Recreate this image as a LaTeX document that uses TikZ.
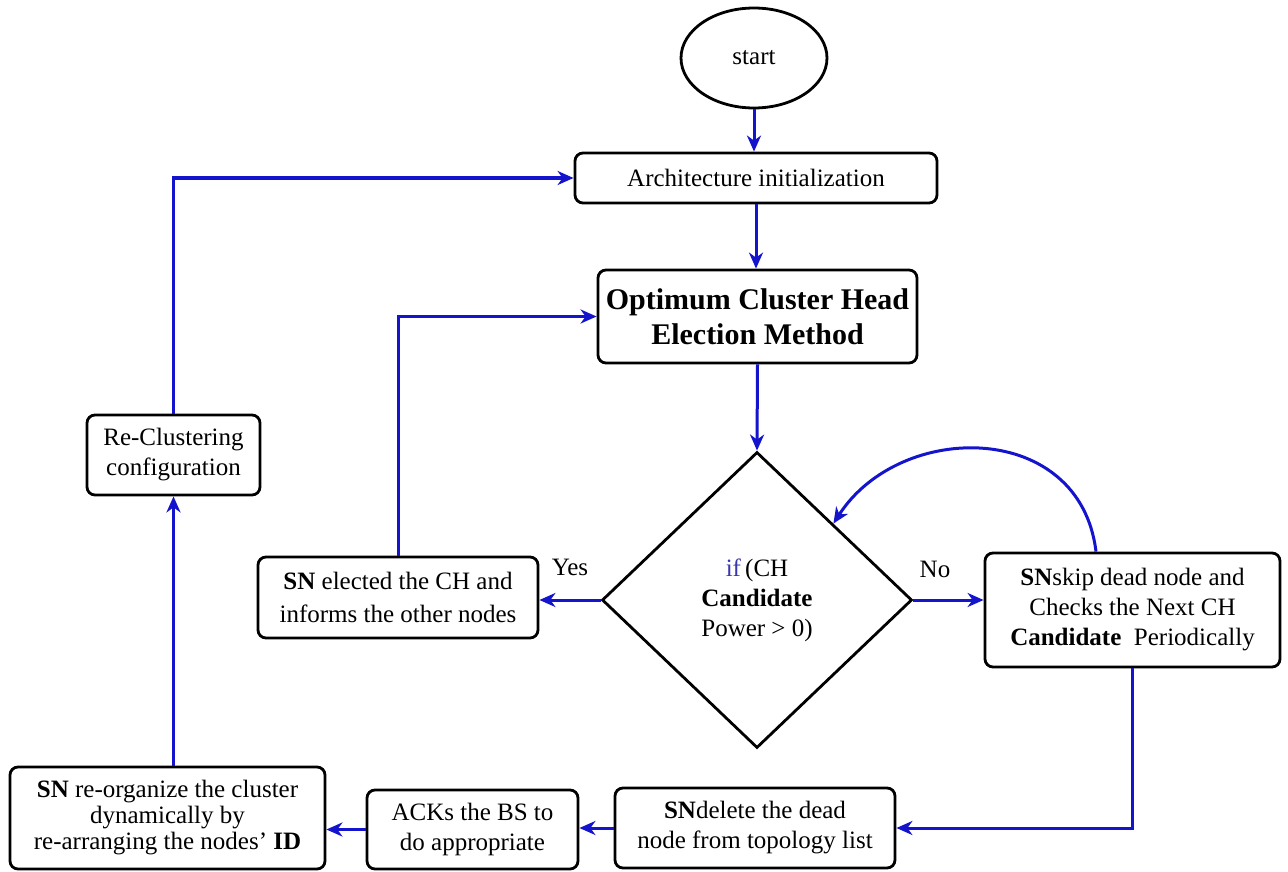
\documentclass[tikz,border=0pt]{standalone}
\usepackage{fontspec}
\setmainfont{LiberationSerif}[
  Extension=.ttf,
  UprightFont=*-Regular,
  BoldFont=*-Bold,
  ItalicFont=*-Italic,
  BoldItalicFont=*-BoldItalic]
\usetikzlibrary{shapes.geometric,arrows.meta}
\definecolor{flowblue}{RGB}{20,20,205}
\definecolor{ifblue}{RGB}{55,55,175}
\begin{document}
\begin{tikzpicture}[x=1pt,y=-1pt,
  base/.style={draw=black, line width=2.8pt, align=center, inner sep=0pt,
    font=\fontsize{25}{30}\selectfont},
  stepbox/.style={base, rectangle, rounded corners=8pt},
  flow/.style={draw=flowblue, line width=3pt,
    -{Stealth[length=16pt,width=14pt,inset=5pt]}},
  lbl/.style={inner sep=0pt, font=\fontsize{25}{30}\selectfont}]
\useasboundingbox (0,0) rectangle (1288,872);

% process steps
\node[base, ellipse, minimum width=146pt, minimum height=100pt] (start) at (754,58) {start};
\node[stepbox, minimum width=362pt, minimum height=50pt] (arch) at (756,178)
  {Architecture initialization};
\node[stepbox, minimum width=319pt, minimum height=93pt,
  font=\fontsize{30}{35}\selectfont\bfseries] (opt) at (757.5,316.5)
  {Optimum Cluster Head\\Election Method};
\node[base, diamond, minimum width=310pt, minimum height=296pt] (dec) at (757,600)
  {\textcolor{ifblue}{if}\,(CH\\\textbf{Candidate}\\Power > 0)};
\node[stepbox, minimum width=280pt, minimum height=81pt,
  font=\fontsize{25}{33}\selectfont] (elect) at (398,597.5)
  {\textbf{SN} elected the CH and\\informs the other nodes};
\node[stepbox, minimum width=295pt, minimum height=114pt] (skip) at (1132.5,610)
  {\textbf{SN}skip dead node and\\Checks the Next CH\\\textbf{Candidate}~ Periodically};
\node[stepbox, minimum width=280pt, minimum height=80pt] (del) at (755,828)
  {\textbf{SN}delete the dead\\node from topology list};
\node[stepbox, minimum width=211pt, minimum height=79pt] (acks) at (472.5,829.5)
  {ACKs the BS to\\do appropriate};
\node[stepbox, minimum width=315pt, minimum height=102pt,
  font=\fontsize{25}{26}\selectfont] (reorg) at (167.5,818)
  {\textbf{SN} re-organize the cluster\\dynamically by\\re-arranging the nodes’ \textbf{ID}};
\node[stepbox, minimum width=173pt, minimum height=80pt] (recl) at (173.5,455)
  {Re-Clustering\\configuration};

% branch labels
\node[lbl] (yes) at (570,567) {Yes};
\node[lbl] (no) at (935,569) {No};

% connectors
\draw[flow] (start.south) -- (start.south |- arch.north);
\draw[flow] (arch.south) -- (arch.south |- opt.north);
\draw[flow] (opt.south) -- (dec.north);
\draw[flow] (dec.west) -- (dec.west -| elect.east);
\draw[flow] (dec.east) -- (dec.east -| skip.west);
\draw[flow] (elect.north) |- (opt.west);
\draw[flow] (skip.122) .. controls (1080,420) and (900,420) .. (dec.45);
\draw[flow] (skip.south) |- (del.east);
\draw[flow] (del.west) -- (del.west -| acks.east);
\draw[flow] (acks.west) -- (acks.west -| reorg.east);
\draw[flow] (reorg.north -| recl.south) -- (recl.south);
\draw[flow] (recl.north) |- (arch.west);
\end{tikzpicture}
\end{document}
